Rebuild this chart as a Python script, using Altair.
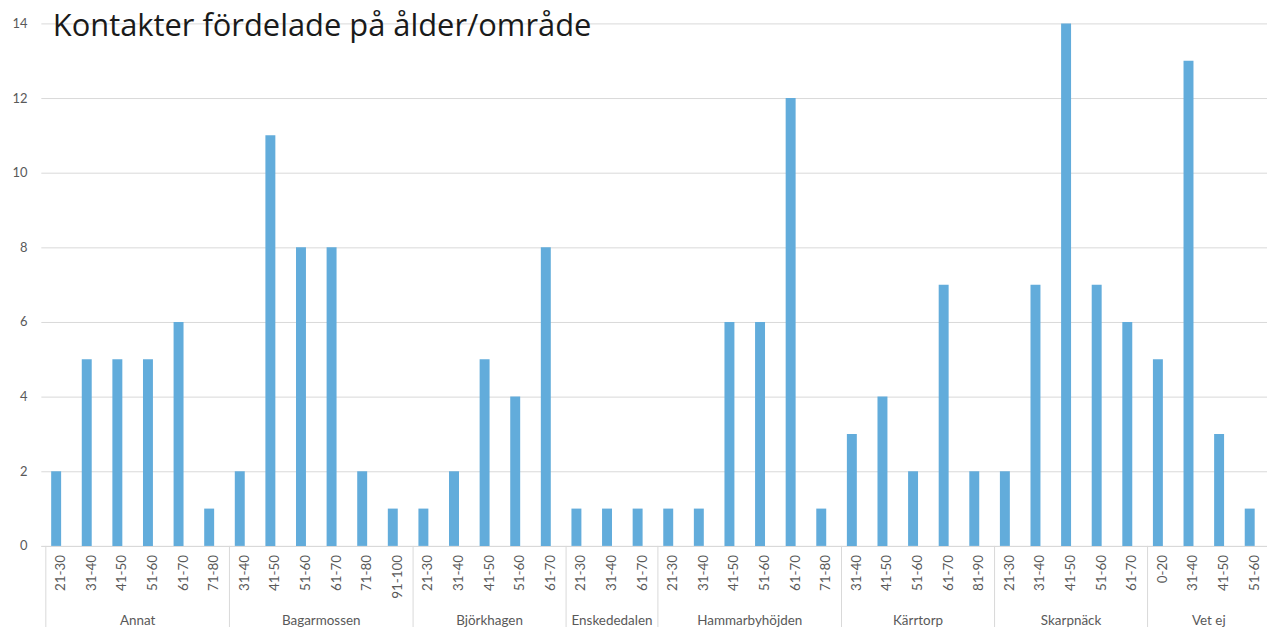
import altair as alt
import pandas as pd

title_text = "Kontakter fördelade på ålder/område"

areas = ["Annat", "Bagarmossen", "Björkhagen", "Enskededalen",
         "Hammarbyhöjden", "Kärrtorp", "Skarpnäck", "Vet ej"]
area_ages = [
    ["21-30", "31-40", "41-50", "51-60", "61-70", "71-80"],
    ["31-40", "41-50", "51-60", "61-70", "71-80", "91-100"],
    ["21-30", "31-40", "41-50", "51-60", "61-70"],
    ["21-30", "31-40", "61-70"],
    ["21-30", "31-40", "41-50", "51-60", "61-70", "71-80"],
    ["31-40", "41-50", "51-60", "61-70", "81-90"],
    ["21-30", "31-40", "41-50", "51-60", "61-70"],
    ["0-20", "31-40", "41-50", "51-60"],
]
area_counts = [
    [2, 5, 5, 5, 6, 1],
    [2, 11, 8, 8, 2, 1],
    [1, 2, 5, 4, 8],
    [1, 1, 1],
    [1, 1, 6, 6, 12, 1],
    [3, 4, 2, 7, 2],
    [2, 7, 14, 7, 6],
    [5, 13, 3, 1],
]

# Build tables
rows, groups, bounds = [], [], [0]
i = 0
for area, ages, counts in zip(areas, area_ages, area_counts):
    start = i
    for age, c in zip(ages, counts):
        rows.append({"pos": i + 0.5, "area": area, "age": age, "count": c})
        i += 1
    groups.append({"area": area, "mid": (start + i) / 2})
    bounds.append(i)
n = i
bars_df = pd.DataFrame(rows)
groups_df = pd.DataFrame(groups)
bounds_df = pd.DataFrame({"b": bounds})

W, H = 1232, 525
GRAY = "#d9d9d9"
LBL = "#595959"
FONT = "Lato"

# the reference's category axis runs a little past the right edge of the picture
xscale = alt.Scale(domain=[0, n], range=[0, 1240], nice=False, zero=False)
xaxis = alt.Axis(labels=False, ticks=False, grid=False, domainColor=GRAY,
                 domainWidth=1, title=None)

bars = alt.Chart(bars_df).mark_bar(size=10, xOffset=-5, color="#62acdb").encode(
    x=alt.X("pos:Q", scale=xscale, axis=xaxis),
    y=alt.Y("count:Q", scale=alt.Scale(domain=[0, 14], nice=False),
            axis=alt.Axis(values=list(range(0, 15, 2)), grid=True,
                          gridColor=GRAY, gridWidth=1, domain=False,
                          ticks=False, labelFontSize=13, labelColor=LBL,
                          labelFont=FONT, labelPadding=14, title=None)),
)

age_labels = alt.Chart(bars_df).mark_text(
    angle=270, align="right", baseline="middle", fontSize=13.5,
    color=LBL, font=FONT
).encode(
    x=alt.X("pos:Q", scale=xscale, axis=xaxis),
    y=alt.value(H + 9),
    text="age:N",
)

seps = alt.Chart(bounds_df).mark_rule(color=GRAY, strokeWidth=1).encode(
    x=alt.X("b:Q", scale=xscale, axis=xaxis),
    y=alt.value(H),
    y2=alt.value(H + 82),
)

group_labels = alt.Chart(groups_df).mark_text(
    fontSize=13.5, color=LBL, font=FONT, baseline="middle"
).encode(
    x=alt.X("mid:Q", scale=xscale, axis=xaxis),
    y=alt.value(H + 75),
    text="area:N",
)

title = alt.Chart(pd.DataFrame({"t": [title_text]})).mark_text(
    fontSize=31, font="Open Sans", color="#1a1a1a", align="left",
    baseline="alphabetic"
).encode(
    x=alt.value(12),
    y=alt.value(13),
    text="t:N",
)

chart = alt.layer(bars, age_labels, seps, group_labels, title).properties(
    width=W, height=H,
    padding={"left": 33, "top": 14, "right": 0, "bottom": 80},
    autosize=alt.AutoSizeParams(type="none"),
    background="white",
).configure_view(stroke=None)

chart.save("out.html", embed_options={"renderer": "svg", "actions": False})
